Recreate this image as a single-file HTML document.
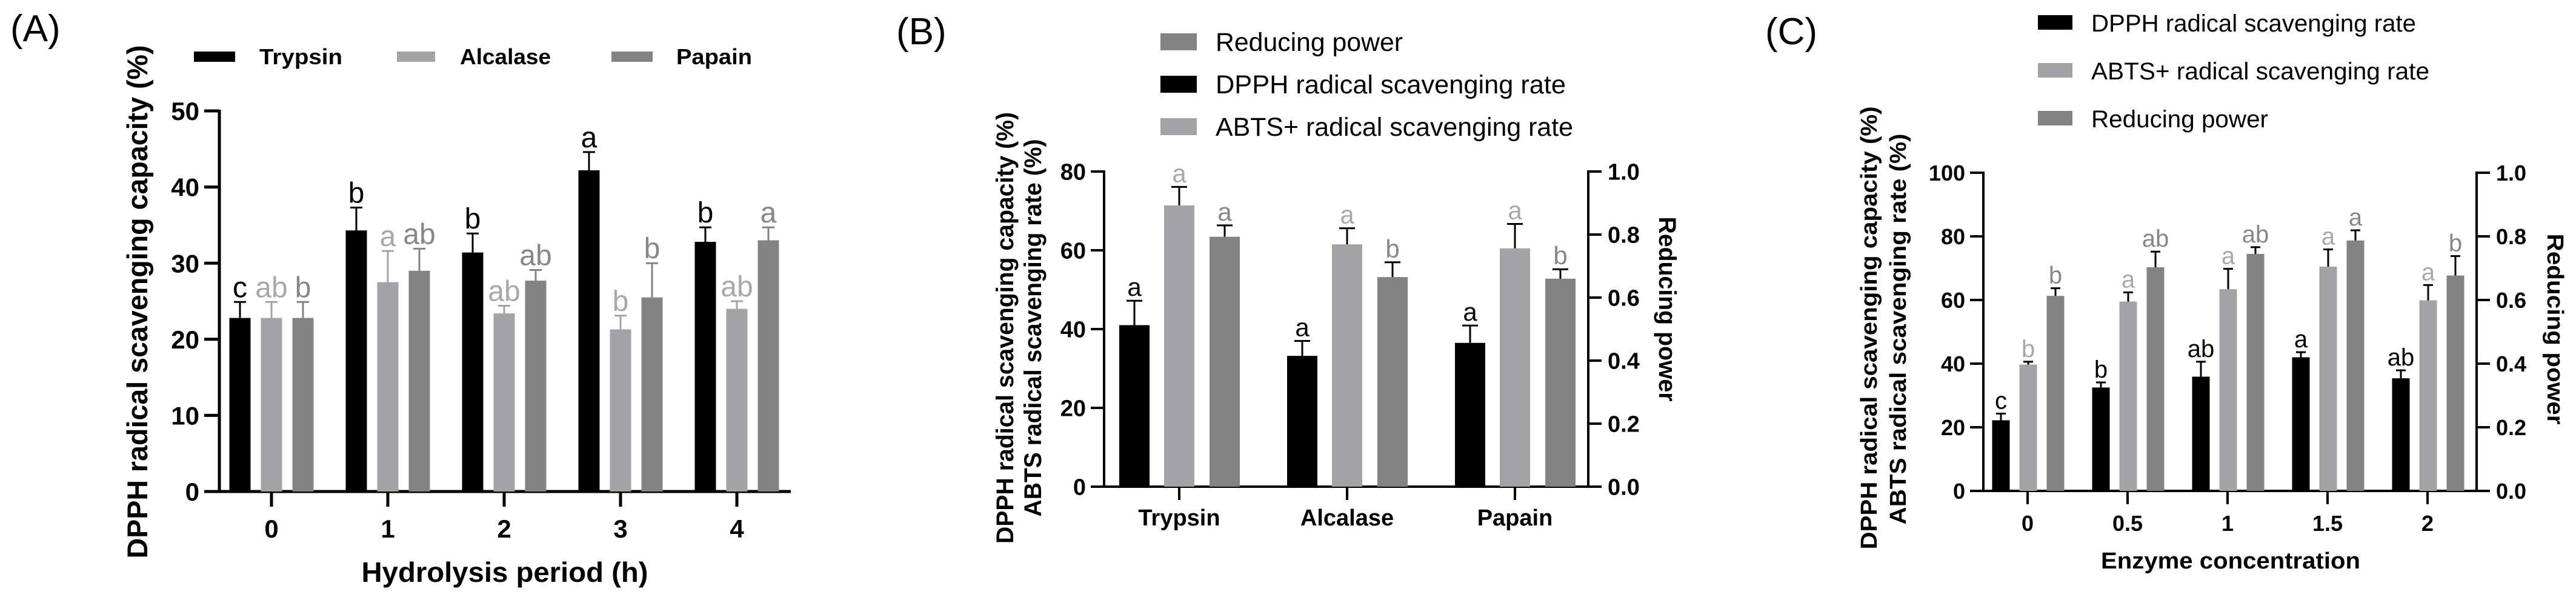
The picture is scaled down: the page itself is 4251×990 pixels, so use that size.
<!DOCTYPE html>
<html><head><meta charset="utf-8"><style>
html,body{margin:0;padding:0;background:#fff;}
svg{display:block;font-family:"Liberation Sans",Arial,sans-serif;}
</style></head><body>
<svg id="fig" width="4251" height="990" viewBox="0 0 4251 990" xmlns="http://www.w3.org/2000/svg"></svg>
<script>
// ---------- Panel A data ----------
const aCategories = ["0","1","2","3","4"];
const aTrypsin = [22.8,34.3,31.4,42.2,32.8];
const aTrypsinErr = [24.9,37.3,33.9,44.6,34.7];
const aAlcalase = [22.8,27.5,23.4,21.3,24.0];
const aAlcalaseErr = [24.9,31.6,24.4,23.1,25.0];
const aPapain = [22.8,29.0,27.7,25.5,33.0];
const aPapainErr = [24.9,31.9,29.1,30.0,34.7];
const aTrypsinLetters = ["c","b","b","a","b"];
const aAlcalaseLetters = ["ab","a","ab","b","ab"];
const aPapainLetters = ["b","ab","ab","b","a"];
const aTicks = [0,10,20,30,40,50];
// ---------- Panel B data ----------
const bCategories = ["Trypsin","Alcalase","Papain"];
const bDpph = [41.0,33.2,36.5];
const bDpphErr = [47.2,37.0,40.9];
const bAbts = [71.4,61.5,60.5];
const bAbtsErr = [76.1,65.6,66.7];
const bReducing = [0.793,0.665,0.660];
const bReducingErr = [0.829,0.712,0.690];
const bDpphLetters = ["a","a","a"];
const bAbtsLetters = ["a","a","a"];
const bReducingLetters = ["a","b","b"];
const bTicks = [0,20,40,60,80];
const bRightTicks = ["0.0","0.2","0.4","0.6","0.8","1.0"];
// ---------- Panel C data ----------
const cCategories = ["0","0.5","1","1.5","2"];
const cDpph = [22.2,32.5,35.9,42.0,35.4];
const cDpphErr = [24.3,34.1,40.6,43.6,37.9];
const cAbts = [39.7,59.5,63.4,70.5,59.9];
const cAbtsErr = [40.6,62.4,69.8,75.9,64.7];
const cReducing = [0.613,0.703,0.745,0.787,0.677];
const cReducingErr = [0.637,0.752,0.766,0.819,0.738];
const cDpphLetters = ["c","b","ab","a","ab"];
const cAbtsLetters = ["b","a","a","a","a"];
const cReducingLetters = ["b","ab","ab","a","b"];
const cTicks = [0,20,40,60,80,100];
const cRightTicks = ["0.0","0.2","0.4","0.6","0.8","1.0"];

const NS = "http://www.w3.org/2000/svg";
const svg = document.getElementById("fig");
function mk(tag, attrs, parent, text){
  const e = document.createElementNS(NS, tag);
  for (const k in attrs) e.setAttribute(k, attrs[k]);
  if (text !== undefined) e.textContent = text;
  (parent||svg).appendChild(e);
  return e;
}
const BLACK="#000", LIGHT="#a3a3a6", DARK="#838383";
const LLIGHT="#a8a8a8", LDARK="#878787";

function panel(cfg){
  const g = mk("g",{});
  
  
  const y = v => cfg.base - (v - 0) / cfg.max * (cfg.base - cfg.top);
  const yr = v => cfg.base - v * (cfg.base - cfg.top);
  const x = i => cfg.x0 + i * cfg.step;
  // axes
  const ax = mk("line",{x1:cfg.axisX,y1:cfg.top-2,x2:cfg.axisX,y2:cfg.base,stroke:"#000","stroke-width":cfg.lw},g);
  
  
  const xa = mk("line",{x1:cfg.axisX-cfg.tickLen,y1:cfg.base,x2:cfg.axisEnd,y2:cfg.base,stroke:"#000","stroke-width":cfg.lw},g);
  
  
  cfg.ticks.forEach(t=>{
    const ty = y(t);
    mk("line",{x1:cfg.axisX-cfg.tickLen,y1:ty,x2:cfg.axisX,y2:ty,stroke:"#000","stroke-width":cfg.lw},g);
    const tl = mk("text",{x:cfg.axisX-cfg.tickLen-8,y:ty+cfg.tickFont*0.36,"text-anchor":"end","font-size":cfg.tickFont,"font-weight":"bold"},g,String(t));
    
    
  });
  if (cfg.rightTicks){
    const rx = cfg.axisEnd;
    const ra = mk("line",{x1:rx,y1:cfg.top-2,x2:rx,y2:cfg.base,stroke:"#000","stroke-width":cfg.lw},g);
    
    
    cfg.rightTicks.forEach(t=>{
      const ty = yr(parseFloat(t));
      mk("line",{x1:rx,y1:ty,x2:rx+cfg.tickLen,y2:ty,stroke:"#000","stroke-width":cfg.lw},g);
      const tl = mk("text",{x:rx+cfg.tickLen+10,y:ty+cfg.tickFont*0.36,"font-size":cfg.tickFont,"font-weight":"bold"},g,t);
      
      
    });
  }
  cfg.categories.forEach((c,i)=>{
    mk("line",{x1:x(i),y1:cfg.base,x2:x(i),y2:cfg.base+cfg.tickLen,stroke:"#000","stroke-width":cfg.lw},g);
    const tl = mk("text",{x:x(i),y:cfg.catY,"text-anchor":"middle","font-size":cfg.catFont,"font-weight":"bold"},g,c);
    
    
  });
  // series
  cfg.series.forEach((s,si)=>{
    s.vals.forEach((v,i)=>{
      const sc = s.right ? yr : y;
      const cx = x(i) + s.off;
      const top = sc(v);
      const r = mk("rect",{x:cx-cfg.bw/2,y:top,width:cfg.bw,height:cfg.base-top,fill:s.color},g);
      
      
      const et = sc(s.err[i]);
      mk("line",{x1:cx,y1:top,x2:cx,y2:et,stroke:s.ecolor,"stroke-width":3},g);
      mk("line",{x1:cx-cfg.cap/2,y1:et,x2:cx+cfg.cap/2,y2:et,stroke:s.ecolor,"stroke-width":3},g);
      const lt = mk("text",{x:cx,y:et-8,"text-anchor":"middle","font-size":cfg.letterFont,fill:s.lcolor},g,s.letters[i]);
      
      
    });
  });
  return g;
}
function text(attrs, str, name){
  const t = mk("text", attrs, svg, str);
  
  
  return t;
}
function swatch(x0,y0,w,h,color,name){
  const r = mk("rect",{x:x0,y:y0,width:w,height:h,fill:color});
  
  
}

// ===== Panel A =====
panel({name:"panel-a",base:811,top:183,max:50,axisX:362,axisEnd:1305,tickLen:25,lw:5,x0:448,step:192,bw:35,cap:20,
  ticks:aTicks,categories:aCategories,tickFont:42,catFont:42,catY:887,letterFont:48,
  series:[
   {key:"trypsin",vals:aTrypsin,err:aTrypsinErr,letters:aTrypsinLetters,off:-52,color:BLACK,ecolor:BLACK,lcolor:BLACK},
   {key:"alcalase",vals:aAlcalase,err:aAlcalaseErr,letters:aAlcalaseLetters,off:0,color:LIGHT,ecolor:LIGHT,lcolor:LLIGHT},
   {key:"papain",vals:aPapain,err:aPapainErr,letters:aPapainLetters,off:52,color:DARK,ecolor:DARK,lcolor:LDARK}]
});
text({x:17,y:68,"font-size":62},"(A)","panel-label-a");
text({x:243,y:498,transform:"rotate(-90 243 498)","text-anchor":"middle","font-size":47,"font-weight":"bold",textLength:847,lengthAdjust:"spacingAndGlyphs"},"DPPH radical scavenging capacity (%)","y-axis-title-a");
text({x:833,y:960,"text-anchor":"middle","font-size":46,"font-weight":"bold",textLength:473,lengthAdjust:"spacingAndGlyphs"},"Hydrolysis period (h)","x-axis-title-a");
swatch(320,85,68,17,BLACK,"legend-swatch-trypsin");
text({x:428,y:106,"font-size":36,"font-weight":"bold",textLength:137,lengthAdjust:"spacingAndGlyphs"},"Trypsin","legend-entry-trypsin");
swatch(655,85,63,17,LIGHT,"legend-swatch-alcalase");
text({x:759,y:106,"font-size":36,"font-weight":"bold",textLength:150,lengthAdjust:"spacingAndGlyphs"},"Alcalase","legend-entry-alcalase");
swatch(1009,85,68,17,DARK,"legend-swatch-papain");
text({x:1116,y:106,"font-size":36,"font-weight":"bold",textLength:125,lengthAdjust:"spacingAndGlyphs"},"Papain","legend-entry-papain");

// ===== Panel B =====
panel({name:"panel-b",base:803,top:283,max:80,axisX:1822,axisEnd:2621,tickLen:22,lw:4,x0:1946,step:277,bw:50,cap:26,
  ticks:bTicks,categories:bCategories,tickFont:38,catFont:38,catY:867,letterFont:42,rightTicks:bRightTicks,
  series:[
   {key:"dpph",vals:bDpph,err:bDpphErr,letters:bDpphLetters,off:-74,color:BLACK,ecolor:BLACK,lcolor:BLACK},
   {key:"abts",vals:bAbts,err:bAbtsErr,letters:bAbtsLetters,off:0,color:LIGHT,ecolor:BLACK,lcolor:LLIGHT},
   {key:"reducing",vals:bReducing,err:bReducingErr,letters:bReducingLetters,off:75,color:DARK,ecolor:BLACK,lcolor:LDARK,right:true}]
});
text({x:1479,y:73,"font-size":62},"(B)","panel-label-b");
text({x:1672,y:541,transform:"rotate(-90 1672 541)","text-anchor":"middle","font-size":40,"font-weight":"bold",textLength:712,lengthAdjust:"spacingAndGlyphs"},"DPPH radical scavenging capacity (%)","y-axis-title-b-line1");
text({x:1718,y:541,transform:"rotate(-90 1718 541)","text-anchor":"middle","font-size":40,"font-weight":"bold",textLength:623,lengthAdjust:"spacingAndGlyphs"},"ABTS radical scavenging rate (%)","y-axis-title-b-line2");
text({x:2738,y:510,transform:"rotate(90 2738 510)","text-anchor":"middle","font-size":40,"font-weight":"bold",textLength:305,lengthAdjust:"spacingAndGlyphs"},"Reducing power","right-axis-title-b");
swatch(1915,55,60,28,DARK,"legend-swatch-reducing-b");
text({x:2006,y:84,"font-size":43,textLength:309,lengthAdjust:"spacingAndGlyphs"},"Reducing power","legend-entry-reducing-b");
swatch(1915,125,60,28,BLACK,"legend-swatch-dpph-b");
text({x:2006,y:154,"font-size":43,textLength:578,lengthAdjust:"spacingAndGlyphs"},"DPPH radical scavenging rate","legend-entry-dpph-b");
swatch(1915,195,60,28,LIGHT,"legend-swatch-abts-b");
text({x:2006,y:224,"font-size":43,textLength:590,lengthAdjust:"spacingAndGlyphs"},"ABTS+ radical scavenging rate","legend-entry-abts-b");

// ===== Panel C =====
panel({name:"panel-c",base:810,top:285,max:100,axisX:3273,axisEnd:4087,tickLen:22,lw:4,x0:3346,step:165,bw:29,cap:16,
  ticks:cTicks,categories:cCategories,tickFont:36,catFont:36,catY:876,letterFont:40,rightTicks:cRightTicks,
  series:[
   {key:"dpph",vals:cDpph,err:cDpphErr,letters:cDpphLetters,off:-44,color:BLACK,ecolor:BLACK,lcolor:BLACK},
   {key:"abts",vals:cAbts,err:cAbtsErr,letters:cAbtsLetters,off:1,color:LIGHT,ecolor:BLACK,lcolor:LLIGHT},
   {key:"reducing",vals:cReducing,err:cReducingErr,letters:cReducingLetters,off:46,color:DARK,ecolor:BLACK,lcolor:LDARK,right:true}]
});
text({x:2913,y:73,"font-size":62},"(C)","panel-label-c");
text({x:3097,y:541,transform:"rotate(-90 3097 541)","text-anchor":"middle","font-size":38,"font-weight":"bold",textLength:731,lengthAdjust:"spacingAndGlyphs"},"DPPH radical scavenging capacity (%)","y-axis-title-c-line1");
text({x:3145,y:543,transform:"rotate(-90 3145 543)","text-anchor":"middle","font-size":38,"font-weight":"bold",textLength:645,lengthAdjust:"spacingAndGlyphs"},"ABTS radical scavenging rate (%)","y-axis-title-c-line2");
text({x:4204,y:543,transform:"rotate(90 4204 543)","text-anchor":"middle","font-size":38,"font-weight":"bold",textLength:315,lengthAdjust:"spacingAndGlyphs"},"Reducing power","right-axis-title-c");
text({x:3681,y:938,"text-anchor":"middle","font-size":38,"font-weight":"bold",textLength:428,lengthAdjust:"spacingAndGlyphs"},"Enzyme concentration","x-axis-title-c");
swatch(3363,25,57,24,BLACK,"legend-swatch-dpph-c");
text({x:3451,y:52,"font-size":40,textLength:536,lengthAdjust:"spacingAndGlyphs"},"DPPH radical scavenging rate","legend-entry-dpph-c");
swatch(3363,104,57,24,LIGHT,"legend-swatch-abts-c");
text({x:3451,y:131,"font-size":40,textLength:558,lengthAdjust:"spacingAndGlyphs"},"ABTS+ radical scavenging rate","legend-entry-abts-c");
swatch(3363,183,57,24,DARK,"legend-swatch-reducing-c");
text({x:3451,y:210,"font-size":40,textLength:292,lengthAdjust:"spacingAndGlyphs"},"Reducing power","legend-entry-reducing-c");
</script>
</body></html>
